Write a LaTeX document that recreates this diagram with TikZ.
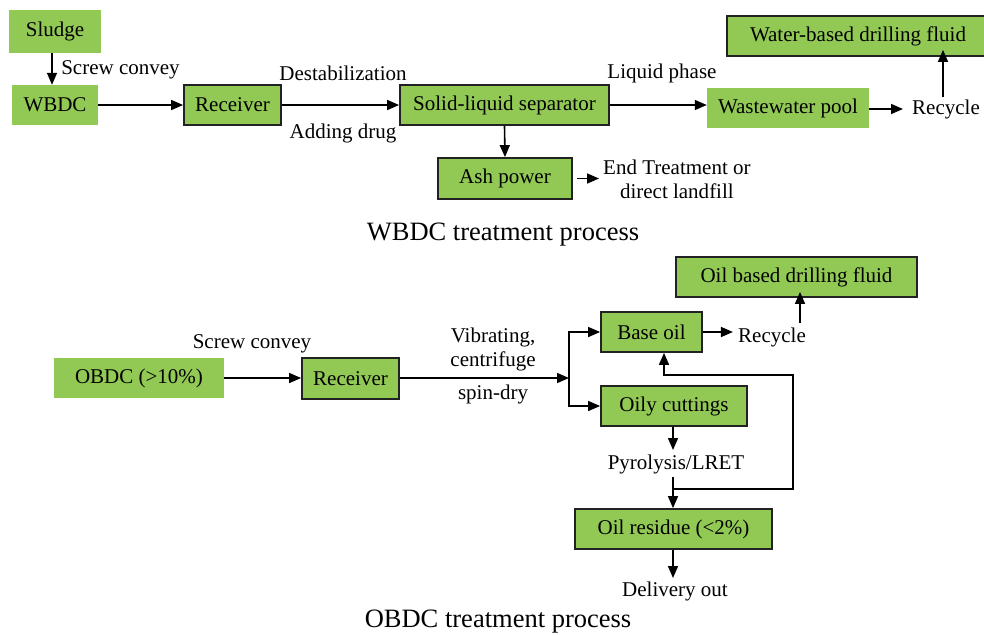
\documentclass[tikz,border=0pt]{standalone}
\usepackage{fontspec}
\setmainfont{Liberation Serif}
\usetikzlibrary{arrows.meta,calc}
\definecolor{boxgreen}{HTML}{92C955}
\definecolor{edgegray}{HTML}{222222}
\tikzset{
  base/.style={fill=boxgreen, inner sep=0pt, align=center, font=\fontsize{21}{24}\selectfont},
  plain/.style={base, draw=none},
  framed/.style={base, draw=edgegray, line width=1.8pt},
  lbl/.style={inner sep=1pt, align=center, font=\fontsize{21}{24}\selectfont},
  ttl/.style={inner sep=1pt, font=\fontsize{26.5}{30}\selectfont},
  arr/.style={line width=1.6pt, -{Triangle[length=12pt,width=10pt]}},
  ln/.style={line width=1.6pt}
}
\begin{document}
\begin{tikzpicture}[x=1pt,y=-1pt]
\useasboundingbox (0,0) rectangle (984,635);
% ---------- WBDC ----------
\node[plain, minimum width=92, minimum height=43] (sludge) at (55,31.5) {Sludge};
\node[plain, minimum width=86, minimum height=40] (wbdc) at (55,105) {WBDC};
\node[framed, minimum width=97, minimum height=40] (rec1) at (232.5,105) {Receiver};
\node[framed, minimum width=209, minimum height=40] (sep) at (504.5,105) {Solid-liquid separator};
\node[framed, minimum width=134, minimum height=41] (ash) at (505,178.5) {Ash power};
\node[plain, minimum width=162, minimum height=40] (wpool) at (788,108) {Wastewater pool};
\node[framed, minimum width=262, minimum height=40] (wdf) at (858,36) {Water-based drilling fluid};
\node[lbl, anchor=west] (recy1) at (911,109) {Recycle};
\node[lbl, anchor=west] (endt) at (602,179.5) {End Treatment or\\direct landfill};
\node[lbl] (screw1) at (120.5,70) {Screw convey};
\node[lbl] (destab) at (343,73) {Destabilization};
\node[lbl] (adding) at (343,133) {Adding drug};
\node[lbl] (liquid) at (662,73) {Liquid phase};
\node[ttl] (title1) at (503,235) {WBDC treatment process};

\draw[arr] ([xshift=-3pt]sludge.south) -- ([xshift=-3pt]wbdc.north);
\draw[arr] (wbdc.east) -- (rec1.west);
\draw[arr] (rec1.east) -- (sep.west);
\draw[arr] (sep.south) -- (ash.north);
\draw[arr] ([xshift=4pt]ash.east) -- ([xshift=-3pt]endt.west |- ash.east);
\draw[arr] (sep.east) -- (sep.east -| wpool.west);
\coordinate (r1top) at (943,97);
\draw[arr] ([yshift=-1pt]wpool.east) -- ([xshift=-8pt,yshift=-1pt]recy1.west |- wpool.east);
\draw[arr] (r1top) -- ([yshift=7pt]r1top |- wdf.south);

% ---------- OBDC ----------
\node[plain, minimum width=170, minimum height=40] (obdc) at (139,378) {OBDC (>10\%)};
\node[framed, minimum width=97, minimum height=41] (rec2) at (350.5,378.5) {Receiver};
\node[framed, minimum width=101, minimum height=40] (baseoil) at (651.5,332) {Base oil};
\node[framed, minimum width=146, minimum height=40] (oily) at (674,406) {Oily cuttings};
\node[framed, minimum width=241, minimum height=40] (drill) at (796.5,277) {Oil based drilling fluid};
\node[framed, minimum width=197, minimum height=40] (resid) at (673.5,529) {Oil residue (<2\%)};
\node[lbl, anchor=west] (recy2) at (737,337) {Recycle};
\node[lbl] (pyro) at (676,464) {Pyrolysis/LRET};
\node[lbl] (deliv) at (675,591) {Delivery out};
\node[lbl] (screw2) at (252,344) {Screw convey};
\node[lbl] (vib) at (493,349.5) {Vibrating,\\centrifuge};
\node[lbl] (spin) at (493,394) {spin-dry};
\node[ttl] (title2) at (498,622) {OBDC treatment process};

\coordinate (split) at (569,378);
\coordinate (r2top) at (800,323);
\coordinate (pyrotop) at (673,450);
\coordinate (pyrobot) at (673,477);
\coordinate (join) at (673,489);
\coordinate (loop) at (793,375);
\coordinate (delivtop) at (673,578);

\draw[arr] (obdc.east) -- (rec2.west |- obdc.east);
\draw[arr] (rec2.east |- split) -- (split);
\draw[arr] (split) |- (baseoil.west);
\draw[arr] (split) |- (oily.west);
\draw[arr] (baseoil.east) -- ([xshift=30pt]baseoil.east);
\draw[arr] (r2top) -- ([yshift=6pt]r2top |- drill.south);
\draw[arr] (oily.south -| pyrotop) -- (pyrotop);
\draw[arr] (pyrobot) -- (pyrobot |- resid.north);
\draw[arr] (join) -| (loop) -| ([xshift=12.5pt]baseoil.south);
\draw[arr] (resid.south -| delivtop) -- (delivtop);
\end{tikzpicture}
\end{document}
